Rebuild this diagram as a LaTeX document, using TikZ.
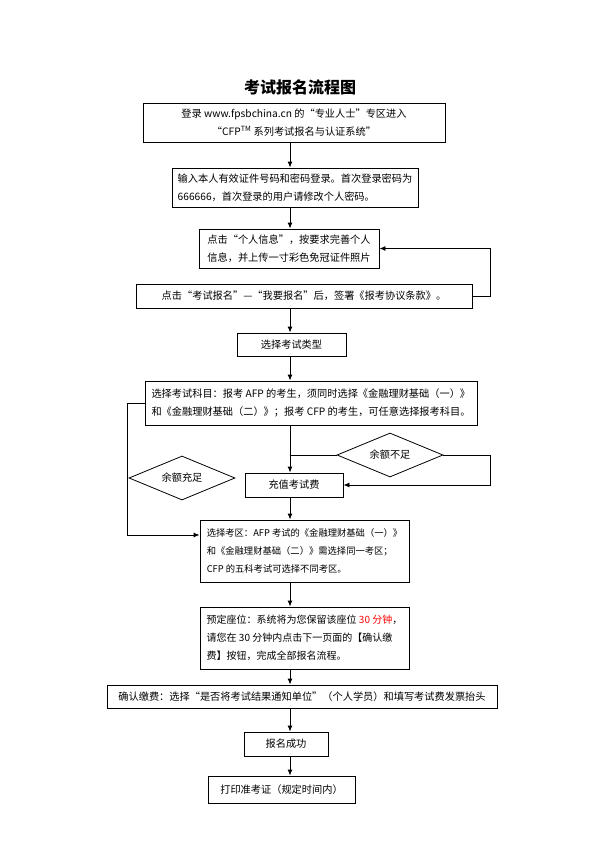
\documentclass[tikz,border=0pt]{standalone}
\usepackage{fontspec}
\setmainfont{Noto Sans CJK SC}
\usetikzlibrary{arrows.meta,shapes.geometric}
\begin{document}
\begin{tikzpicture}[x=1pt,y=-1pt,
  box/.style={draw,line width=0.9pt,inner sep=0pt,align=left,font=\fontsize{10.2}{17.5}\selectfont},
  cbox/.style={box,align=center},
  dia/.style={draw,diamond,line width=0.8pt,aspect=2.4,inner sep=0pt,minimum width=106pt,minimum height=44pt,font=\fontsize{10.2}{12}\selectfont},
  arr/.style={line width=0.9pt,-{Latex[length=6pt,width=5pt]}},
  ln/.style={line width=0.9pt}]
\useasboundingbox (0,0) rectangle (600,848);
\node[font=\fontsize{16}{18}\selectfont\bfseries] (title) at (300,87) {考试报名流程图};
\node[cbox,minimum width=302pt,minimum height=39pt] (B1) at (294,122.5)
  {登录 www.fpsbchina.cn 的“专业人士”专区进入\\“CFP\textsuperscript{TM} 系列考试报名与认证系统”};
\node[box,minimum width=246pt,minimum height=39pt] (B2) at (295,187.5)
  {输入本人有效证件号码和密码登录。首次登录密码为\\666666，首次登录的用户请修改个人密码。};
\node[box,minimum width=180pt,minimum height=39pt] (B3) at (289,248.5)
  {点击“个人信息”，按要求完善个人\\信息，并上传一寸彩色免冠证件照片};
\node[cbox,minimum width=336pt,minimum height=24pt] (B4) at (304,296)
  {点击“考试报名”—“我要报名”后，签署《报考协议条款》。};
\node[cbox,minimum width=109pt,minimum height=23pt] (B5) at (291.5,344.5)
  {选择考试类型};
\node[box,minimum width=332pt,minimum height=44pt] (B6) at (311,403)
  {选择考试科目：报考 AFP 的考生，须同时选择《金融理财基础（一）》\\和《金融理财基础（二）》；报考 CFP 的考生，可任意选择报考科目。};
\node[cbox,minimum width=98pt,minimum height=24pt] (B7) at (294,485)
  {充值考试费};
\node[dia] (D1) at (390,455) {余额不足};
\node[dia] (D2) at (182,478) {余额充足};
\node[box,minimum width=209pt,minimum height=62pt,font=\fontsize{9.3}{18}\selectfont] (B8) at (304.5,551)
  {选择考区：AFP 考试的《金融理财基础（一）》\\和《金融理财基础（二）》需选择同一考区；\\CFP 的五科考试可选择不同考区。};
\node[box,minimum width=209pt,minimum height=62pt,font=\fontsize{10}{18}\selectfont] (B9) at (304.5,638)
  {预定座位：系统将为您保留该座位 {\color{red}30 分钟}，\\请您在 30 分钟内点击下一页面的【确认缴\\费】按钮，完成全部报名流程。};
\node[cbox,minimum width=390pt,minimum height=23pt] (B10) at (302,696.5)
  {确认缴费：选择“是否将考试结果通知单位”（个人学员）和填写考试费发票抬头};
\node[cbox,minimum width=84pt,minimum height=24pt] (B11) at (286,744)
  {报名成功};
\node[cbox,minimum width=147pt,minimum height=27pt] (B12) at (281.5,789.5)
  {打印准考证（规定时间内）};
\coordinate (ax) at (290,0);
\coordinate (R1) at (490,0);
\coordinate (L1) at (127,535);
\draw[arr] (B1.south -| ax) -- (B2.north -| ax);
\draw[arr] (B2.south -| ax) -- (B3.north -| ax);
\draw[arr] (B4.east) -| (R1 |- B3.east) -- (B3.east);
\draw[arr] (B4.south -| ax) -- (B5.north -| ax);
\draw[arr] (B5.south -| ax) -- (B6.north -| ax);
\draw[arr] (B6.south -| ax) -- (B7.north -| ax);
\draw[ln] (D1.west) -- (D1.west -| ax);
\draw[arr] (D1.east) -| (R1 |- B7.east) -- (B7.east);
\draw[arr] (B6.west) -| (L1) -- (B8.west |- L1);
\draw[arr] (B7.south -| ax) -- (B8.north -| ax);
\draw[arr] (B8.south -| ax) -- (B9.north -| ax);
\draw[arr] (B9.south -| ax) -- (B10.north -| ax);
\draw[arr] (B10.south -| ax) -- (B11.north -| ax);
\draw[arr] (B11.south -| ax) -- (B12.north -| ax);
\end{tikzpicture}
\end{document}
